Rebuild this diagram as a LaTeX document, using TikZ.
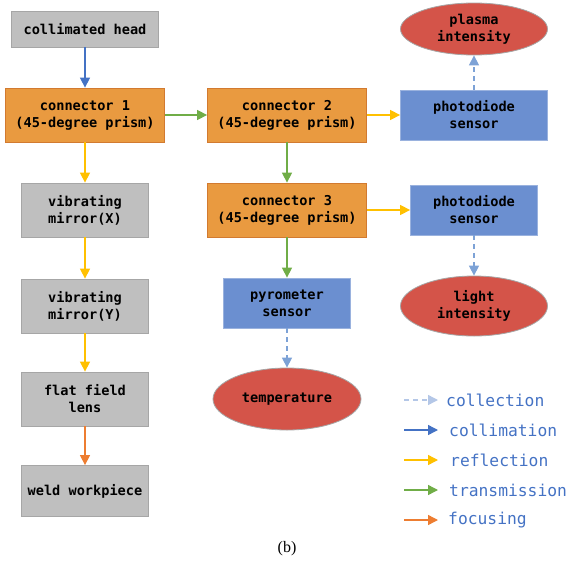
\documentclass[tikz,border=0pt]{standalone}
\usepackage{fontspec}
\setmonofont{DejaVu Sans Mono}
\setmainfont{Liberation Serif}
\usepackage{xcolor}
\usetikzlibrary{arrows.meta, positioning, shapes.geometric}

\definecolor{boxgray}{HTML}{BFBFBF}
\definecolor{edgegray}{HTML}{A6A6A6}
\definecolor{prismorange}{HTML}{E99A40}
\definecolor{prismedge}{HTML}{D27A30}
\definecolor{sensorblue}{HTML}{6B8FD0}
\definecolor{sensoredge}{HTML}{9AB2DE}
\definecolor{outred}{HTML}{D45449}
\definecolor{collimblue}{HTML}{4472C4}
\definecolor{reflyellow}{HTML}{FFC000}
\definecolor{transgreen}{HTML}{70AD47}
\definecolor{focusorange}{HTML}{ED7D31}
\definecolor{collectblue}{HTML}{7DA2D6}
\definecolor{keyblue}{HTML}{B4C7E7}

\begin{document}
\begin{tikzpicture}[
    x=1pt, y=-1pt,
    every node/.style={align=center, inner sep=0pt,
        font=\ttfamily\bfseries\fontsize{13.6}{17}\selectfont},
    optic/.style={rectangle, fill=boxgray, draw=edgegray, line width=0.8pt,
        minimum width=127pt, minimum height=54pt},
    prism/.style={rectangle, fill=prismorange, draw=prismedge, line width=0.8pt,
        minimum width=159pt, minimum height=54pt},
    sensor/.style={rectangle, fill=sensorblue, draw=sensoredge, line width=0.8pt,
        minimum width=127pt, minimum height=50pt},
    output/.style={ellipse, fill=outred, draw=edgegray, line width=0.8pt,
        minimum width=147pt, minimum height=52pt},
    beam/.style={line width=1.4pt, -{Triangle[length=10pt,width=10pt]}},
    collect/.style={beam, collectblue, dashed, dash pattern=on 5pt off 4pt},
    keytext/.style={anchor=west, text=collimblue,
        font=\ttfamily\fontsize{16.3}{19}\selectfont}
]
\useasboundingbox (0,0) rectangle (568,560);

% left column
\node[optic, minimum width=147pt, minimum height=36pt] (head) at (85,29) {collimated head};
\node[prism] (con1) at (85,115) {connector 1\\(45-degree prism)};
\node[optic] (mirx) at (85,210) {vibrating\\mirror(X)};
\node[optic] (miry) at (85,306) {vibrating\\mirror(Y)};
\node[optic] (lens) at (85,399) {flat field\\lens};
\node[optic, minimum height=51pt] (weld) at (85,491) {weld workpiece};

% middle column
\node[prism] (con2) at (287,115) {connector 2\\(45-degree prism)};
\node[prism] (con3) at (287,210) {connector 3\\(45-degree prism)};
\node[sensor] (pyro) at (287,303) {pyrometer\\sensor};
\node[output, minimum width=148pt, minimum height=62pt] (temp) at (287,399) {temperature};

% right column
\node[sensor, minimum width=147pt] (diode1) at (474,115) {photodiode\\sensor};
\node[output] (plasma) at (474,29) {plasma\\intensity};
\node[sensor] (diode2) at (474,210) {photodiode\\sensor};
\node[output, minimum height=60pt] (light) at (474,306) {light\\intensity};

% beams
\draw[beam, collimblue] (head) -- (con1);
\draw[beam, reflyellow] (con1) -- (mirx);
\draw[beam, reflyellow] (mirx) -- (miry);
\draw[beam, reflyellow] (miry) -- (lens);
\draw[beam, focusorange] (lens) -- (weld);
\draw[beam, transgreen] (con1) -- (con2);
\draw[beam, transgreen] (con2) -- (con3);
\draw[beam, transgreen] (con3) -- (pyro);
\draw[beam, reflyellow] (con2) -- (diode1);
\draw[beam, reflyellow] (con3) -- (diode2);
\draw[collect] (diode1) -- (plasma);
\draw[collect] (diode2) -- (light);
\draw[collect] (pyro) -- (temp);

% legend
\coordinate (k1a) at (404,400); \coordinate (k1b) at (438,400);
\coordinate (k2a) at (404,430); \coordinate (k2b) at (438,430);
\coordinate (k3a) at (404,460); \coordinate (k3b) at (438,460);
\coordinate (k4a) at (404,490); \coordinate (k4b) at (438,490);
\coordinate (k5a) at (404,520); \coordinate (k5b) at (438,520);
\draw[collect, keyblue] (k1a) -- (k1b);
\draw[beam, collimblue] (k2a) -- (k2b);
\draw[beam, reflyellow] (k3a) -- (k3b);
\draw[beam, transgreen] (k4a) -- (k4b);
\draw[beam, focusorange] (k5a) -- (k5b);
\node[keytext] (key1) at (446,400) {collection};
\node[keytext] (key2) at (449,430) {collimation};
\node[keytext] (key3) at (450,460) {reflection};
\node[keytext] (key4) at (449,490) {transmission};
\node[keytext] (key5) at (448,520) {focusing};

\node[font=\rmfamily\fontsize{16}{18}\selectfont] (caption) at (287,549) {(b)};
\end{tikzpicture}
\end{document}
